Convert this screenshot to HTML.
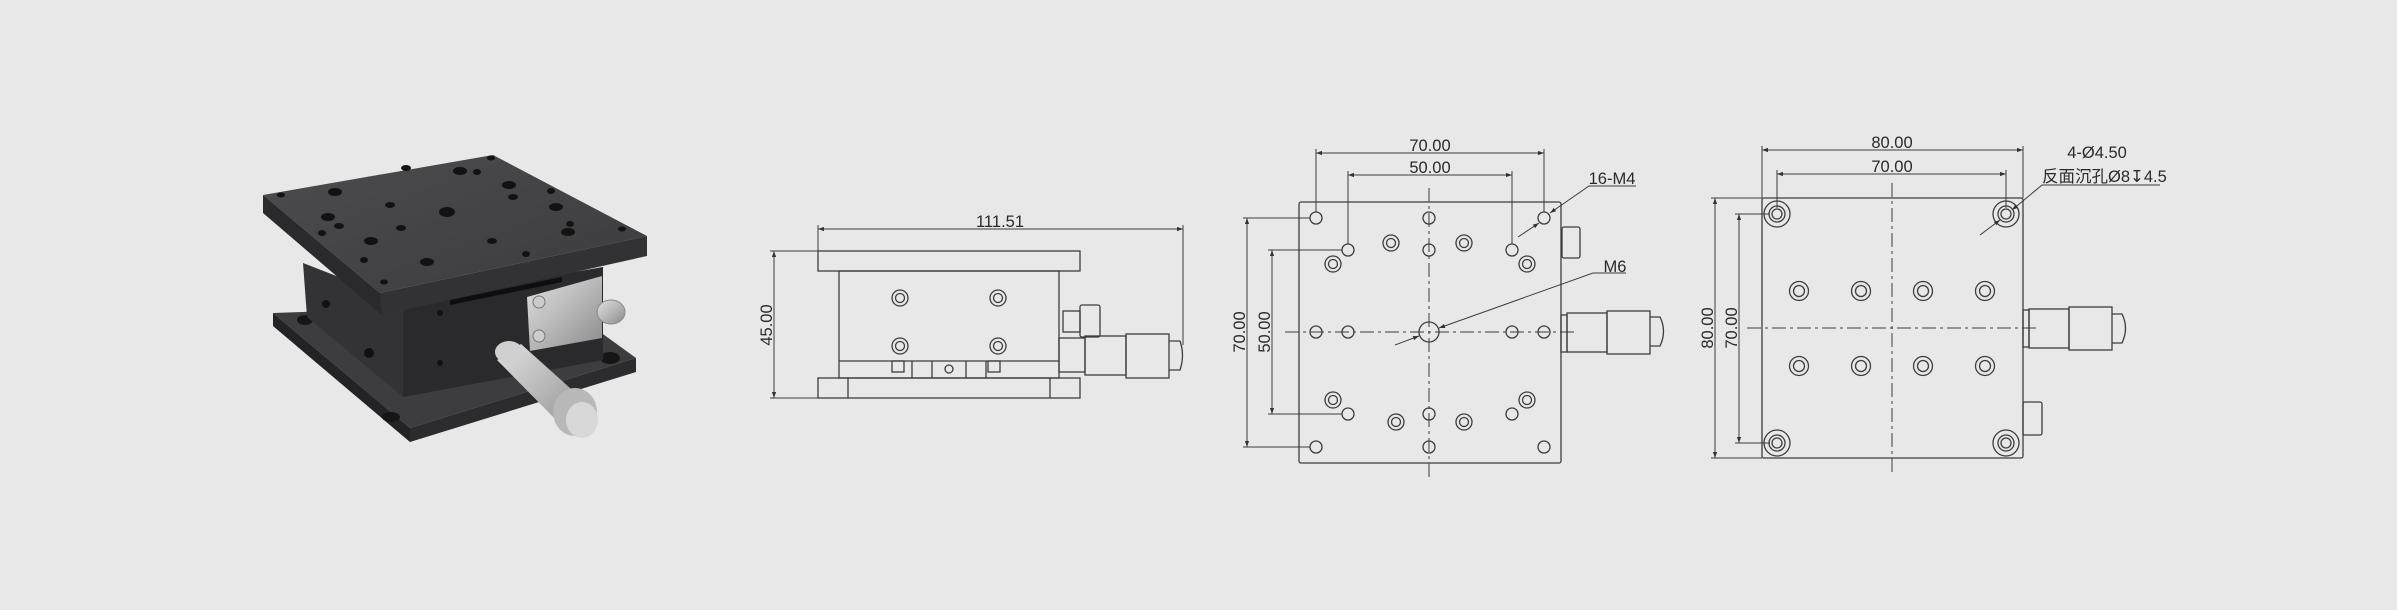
<!DOCTYPE html>
<html><head><meta charset="utf-8"><style>
html,body{margin:0;padding:0;background:#e8e8e8;}
svg{display:block;}
text{font-family:"Liberation Sans","Noto Sans CJK SC",sans-serif;fill:#2a2a2a;font-size:16.5px;}
</style></head><body>
<svg width="2397" height="610" viewBox="0 0 2397 610" xmlns="http://www.w3.org/2000/svg">
<defs>
<marker id="a" viewBox="0 0 10 10" refX="10" refY="5" markerWidth="10" markerHeight="6" orient="auto-start-reverse" markerUnits="userSpaceOnUse"><path d="M0,1.5 L10,5 L0,8.5 Z" fill="#333"/></marker>
<linearGradient id="sil" x1="0" y1="0" x2="1" y2="1"><stop offset="0" stop-color="#e0e0e0"/><stop offset="0.5" stop-color="#b8b8b8"/><stop offset="1" stop-color="#8a8a8a"/></linearGradient>
<linearGradient id="top" x1="0" y1="0" x2="1" y2="1"><stop offset="0" stop-color="#4c4c4e"/><stop offset="1" stop-color="#3c3c3e"/></linearGradient>
</defs>
<rect width="2397" height="610" fill="#e8e8e8"/>

<!-- Panel 1: 3D render -->
<g>
<polygon points="273,313 560,303 636,358 410,428" fill="#3d3d3f"/>
<polygon points="273,313 410,428 410,442 273,326" fill="#232325"/>
<polygon points="410,428 636,358 636,372 410,442" fill="#2c2c2e"/>
<ellipse cx="305" cy="320" rx="8" ry="5" fill="#151515"/>
<ellipse cx="610" cy="358" rx="10" ry="6" fill="#151515"/>
<ellipse cx="391" cy="417" rx="9" ry="5" fill="#151515"/>
<polygon points="303,263 403,302 403,397 307,317" fill="#333335"/>
<polygon points="403,302 603,267 603,360 403,397" fill="#2a2a2c"/>
<circle cx="326" cy="304" r="4" fill="#111"/><circle cx="369" cy="353" r="5" fill="#111"/>
<circle cx="440" cy="313" r="3" fill="#111"/><circle cx="440" cy="363" r="3" fill="#111"/>
<polygon points="450,300 562,277 562,282 450,305" fill="#0e0e0e"/>
<polygon points="263,195 493,155 647,236 380,293" fill="url(#top)"/>
<polygon points="263,195 380,293 382,315 263,213" fill="#2a2a2c"/>
<polygon points="380,293 647,236 647,256 382,315" fill="#323234"/>
<g fill="#121212">
<ellipse cx="281" cy="195" rx="4" ry="2.5"/><ellipse cx="491" cy="158" rx="4" ry="2.5"/><ellipse cx="622" cy="229" rx="4" ry="2.5"/><ellipse cx="384" cy="282" rx="4" ry="2.5"/>
<ellipse cx="335" cy="192" rx="7" ry="4"/><ellipse cx="328" cy="217" rx="7" ry="4"/><ellipse cx="371" cy="241" rx="7" ry="4"/><ellipse cx="427" cy="262" rx="7" ry="4"/>
<ellipse cx="460" cy="171" rx="7" ry="4"/><ellipse cx="509" cy="185" rx="7" ry="4"/><ellipse cx="556" cy="207" rx="7" ry="4"/><ellipse cx="568" cy="232" rx="7" ry="4"/>
<ellipse cx="447" cy="212" rx="8" ry="5"/><ellipse cx="339" cy="226" rx="5" ry="3"/><ellipse cx="401" cy="228" rx="5" ry="3"/><ellipse cx="406" cy="168" rx="5" ry="3"/>
<ellipse cx="390" cy="205" rx="5" ry="3"/><ellipse cx="322" cy="233" rx="4" ry="3"/><ellipse cx="364" cy="260" rx="4" ry="3"/><ellipse cx="492" cy="241" rx="5" ry="3"/>
<ellipse cx="513" cy="197" rx="5" ry="3"/><ellipse cx="551" cy="191" rx="4" ry="3"/><ellipse cx="570" cy="224" rx="4" ry="3"/><ellipse cx="526" cy="254" rx="4" ry="3"/><ellipse cx="477" cy="172" rx="4" ry="3"/>
</g>
<polygon points="527,297 602,276 602,338 530,351" fill="url(#sil)"/>
<circle cx="539" cy="302" r="6" fill="#ccc" stroke="#777"/><circle cx="539" cy="336" r="6" fill="#ccc" stroke="#777"/>
<ellipse cx="611" cy="312" rx="14" ry="12" fill="url(#sil)" stroke="#888"/>
<polygon points="497,360 521,344 590,406 566,430" fill="url(#sil)"/>
<ellipse cx="509" cy="352" rx="14" ry="11" fill="#d0d0d0"/>
<ellipse cx="575" cy="412" rx="22" ry="24" fill="#b8b8b8"/>
<ellipse cx="582" cy="420" rx="16" ry="18" fill="#d8d8d8"/>
</g>

<g fill="none" stroke="#3d3d3d" stroke-width="1.3">
<rect x="818" y="251" width="262" height="20"/>
<rect x="839" y="271" width="220" height="107"/>
<line x1="839" y1="361" x2="1059" y2="361"/>
<rect x="818" y="378" width="262" height="20"/>
<line x1="848" y1="378" x2="848" y2="398"/><line x1="1050" y1="378" x2="1050" y2="398"/>
<circle cx="900" cy="298" r="8"/><circle cx="900" cy="298" r="4.5"/>
<circle cx="998" cy="298" r="8"/><circle cx="998" cy="298" r="4.5"/>
<circle cx="900" cy="346" r="8"/><circle cx="900" cy="346" r="4.5"/>
<circle cx="998" cy="346" r="8"/><circle cx="998" cy="346" r="4.5"/>
<rect x="892" y="361" width="12" height="11"/><rect x="988" y="361" width="12" height="11"/>
<line x1="912" y1="361" x2="912" y2="378"/><line x1="932" y1="361" x2="932" y2="378"/><line x1="966" y1="361" x2="966" y2="378"/><line x1="986" y1="361" x2="986" y2="378"/>
<circle cx="949" cy="369" r="4"/>
<rect x="1059" y="338" width="26" height="34"/>
<rect x="1085" y="336" width="41" height="39"/>
<rect x="1126" y="334" width="43" height="44"/>
<path d="M1169,341 H1180 Q1185,355 1180,370 H1169"/>
<rect x="1080" y="305" width="20" height="32" rx="2"/>
<rect x="1063" y="311" width="17" height="21"/>
<line x1="774" y1="251" x2="774" y2="398" marker-start="url(#a)" marker-end="url(#a)" stroke-width="1"/>
<line x1="770" y1="251" x2="818" y2="251" stroke-width="1"/>
<line x1="770" y1="398" x2="818" y2="398" stroke-width="1"/>
<line x1="818" y1="229" x2="1183" y2="229" marker-start="url(#a)" marker-end="url(#a)" stroke-width="1"/>
<line x1="818" y1="225" x2="818" y2="251" stroke-width="1"/>
<line x1="1183" y1="225" x2="1183" y2="345" stroke-width="1"/>

<rect x="1299" y="202" width="262" height="261" rx="2"/>
<g stroke-dasharray="14,4,3,4" stroke-width="1">
<line x1="1429" y1="188" x2="1429" y2="478"/>
<line x1="1285" y1="332" x2="1576" y2="332"/>
</g>
<g>
<circle cx="1316" cy="218" r="6"/><circle cx="1429" cy="218" r="6"/><circle cx="1544" cy="218" r="6"/>
<circle cx="1348" cy="250" r="6"/><circle cx="1429" cy="250" r="6"/><circle cx="1512" cy="250" r="6"/>
<circle cx="1316" cy="332" r="6"/><circle cx="1348" cy="332" r="6"/><circle cx="1429" cy="332" r="10"/><circle cx="1512" cy="332" r="6"/><circle cx="1544" cy="332" r="6"/>
<circle cx="1348" cy="414" r="6"/><circle cx="1429" cy="414" r="6"/><circle cx="1512" cy="414" r="6"/>
<circle cx="1316" cy="447" r="6"/><circle cx="1429" cy="447" r="6"/><circle cx="1544" cy="447" r="6"/>
</g>
<g>
<circle cx="1391" cy="243" r="8"/><circle cx="1391" cy="243" r="4.5"/>
<circle cx="1464" cy="243" r="8"/><circle cx="1464" cy="243" r="4.5"/>
<circle cx="1333" cy="264" r="8"/><circle cx="1333" cy="264" r="4.5"/>
<circle cx="1527" cy="264" r="8"/><circle cx="1527" cy="264" r="4.5"/>
<circle cx="1333" cy="400" r="8"/><circle cx="1333" cy="400" r="4.5"/>
<circle cx="1527" cy="400" r="8"/><circle cx="1527" cy="400" r="4.5"/>
<circle cx="1396" cy="422" r="8"/><circle cx="1396" cy="422" r="4.5"/>
<circle cx="1464" cy="422" r="8"/><circle cx="1464" cy="422" r="4.5"/>
</g>
<rect x="1562" y="227" width="18" height="31" rx="2"/>
<rect x="1561" y="315" width="6" height="37"/>
<rect x="1567" y="313" width="40" height="39"/>
<rect x="1607" y="311" width="43" height="43"/>
<path d="M1650,317 H1660 Q1667,331 1660,346 H1650"/>
<g stroke-width="1">
<line x1="1316" y1="153" x2="1544" y2="153" marker-start="url(#a)" marker-end="url(#a)"/>
<line x1="1316" y1="149" x2="1316" y2="212"/><line x1="1544" y1="149" x2="1544" y2="212"/>
<line x1="1348" y1="175" x2="1512" y2="175" marker-start="url(#a)" marker-end="url(#a)"/>
<line x1="1348" y1="171" x2="1348" y2="244"/><line x1="1512" y1="171" x2="1512" y2="244"/>
<line x1="1247" y1="218" x2="1247" y2="447" marker-start="url(#a)" marker-end="url(#a)"/>
<line x1="1243" y1="218" x2="1310" y2="218"/><line x1="1243" y1="447" x2="1310" y2="447"/>
<line x1="1272" y1="250" x2="1272" y2="414" marker-start="url(#a)" marker-end="url(#a)"/>
<line x1="1268" y1="250" x2="1342" y2="250"/><line x1="1268" y1="414" x2="1342" y2="414"/>
<polyline points="1636,186 1589,186 1550,213" marker-end="url(#a)"/>
<line x1="1518" y1="237" x2="1539" y2="223" marker-end="url(#a)"/>
<polyline points="1626,273 1593,273 1439,328" marker-end="url(#a)"/>
<line x1="1395" y1="345" x2="1419" y2="336" marker-end="url(#a)"/>
</g>

<rect x="1762" y="198" width="261" height="260" rx="2"/>
<g stroke-dasharray="14,4,3,4" stroke-width="1">
<line x1="1892" y1="183" x2="1892" y2="475"/>
<line x1="1747" y1="328" x2="2037" y2="328"/>
</g>
<g>
<circle cx="1777" cy="214" r="13"/><circle cx="1777" cy="214" r="8"/><circle cx="1777" cy="214" r="5"/>
<circle cx="2006" cy="214" r="13"/><circle cx="2006" cy="214" r="8"/><circle cx="2006" cy="214" r="5"/>
<circle cx="1777" cy="443" r="13"/><circle cx="1777" cy="443" r="8"/><circle cx="1777" cy="443" r="5"/>
<circle cx="2006" cy="443" r="13"/><circle cx="2006" cy="443" r="8"/><circle cx="2006" cy="443" r="5"/>
</g>
<g>
<circle cx="1799" cy="291" r="9.5"/><circle cx="1799" cy="291" r="5.5"/>
<circle cx="1861" cy="291" r="9.5"/><circle cx="1861" cy="291" r="5.5"/>
<circle cx="1923" cy="291" r="9.5"/><circle cx="1923" cy="291" r="5.5"/>
<circle cx="1985" cy="291" r="9.5"/><circle cx="1985" cy="291" r="5.5"/>
<circle cx="1799" cy="366" r="9.5"/><circle cx="1799" cy="366" r="5.5"/>
<circle cx="1861" cy="366" r="9.5"/><circle cx="1861" cy="366" r="5.5"/>
<circle cx="1923" cy="366" r="9.5"/><circle cx="1923" cy="366" r="5.5"/>
<circle cx="1985" cy="366" r="9.5"/><circle cx="1985" cy="366" r="5.5"/>
</g>
<rect x="2023" y="310" width="6" height="37"/>
<rect x="2029" y="309" width="40" height="39"/>
<rect x="2069" y="307" width="43" height="43"/>
<path d="M2112,314 H2122 Q2129,328 2122,343 H2112"/>
<rect x="2023" y="402" width="19" height="33" rx="2"/>
<g stroke-width="1">
<line x1="1762" y1="150" x2="2023" y2="150" marker-start="url(#a)" marker-end="url(#a)"/>
<line x1="1762" y1="146" x2="1762" y2="198"/><line x1="2023" y1="146" x2="2023" y2="198"/>
<line x1="1777" y1="174" x2="2006" y2="174" marker-start="url(#a)" marker-end="url(#a)"/>
<line x1="1777" y1="170" x2="1777" y2="208"/><line x1="2006" y1="170" x2="2006" y2="208"/>
<line x1="1715" y1="198" x2="1715" y2="458" marker-start="url(#a)" marker-end="url(#a)"/>
<line x1="1711" y1="198" x2="1762" y2="198"/><line x1="1711" y1="458" x2="1762" y2="458"/>
<line x1="1739" y1="214" x2="1739" y2="443" marker-start="url(#a)" marker-end="url(#a)"/>
<line x1="1735" y1="214" x2="1770" y2="214"/><line x1="1735" y1="443" x2="1770" y2="443"/>
<polyline points="2160,185 2042,185 2012,210" marker-end="url(#a)"/>
<line x1="1980" y1="235" x2="2000" y2="220" marker-end="url(#a)"/>
</g>
</g>

<text x="1000" y="227" text-anchor="middle">111.51</text>
<text transform="translate(772,325) rotate(-90)" text-anchor="middle">45.00</text>
<text x="1430" y="151" text-anchor="middle">70.00</text>
<text x="1430" y="173" text-anchor="middle">50.00</text>
<text transform="translate(1245,332) rotate(-90)" text-anchor="middle">70.00</text>
<text transform="translate(1270,332) rotate(-90)" text-anchor="middle">50.00</text>
<text x="1612" y="184" text-anchor="middle">16-M4</text>
<text x="1615" y="272" text-anchor="middle">M6</text>
<text x="1892" y="148" text-anchor="middle">80.00</text>
<text x="1892" y="172" text-anchor="middle">70.00</text>
<text transform="translate(1713,328) rotate(-90)" text-anchor="middle">80.00</text>
<text transform="translate(1737,328) rotate(-90)" text-anchor="middle">70.00</text>
<text x="2097" y="158" text-anchor="middle">4-Ø4.50</text>
<text x="2042" y="182">反面沉孔Ø8↧4.5</text>
</svg>
</body></html>
